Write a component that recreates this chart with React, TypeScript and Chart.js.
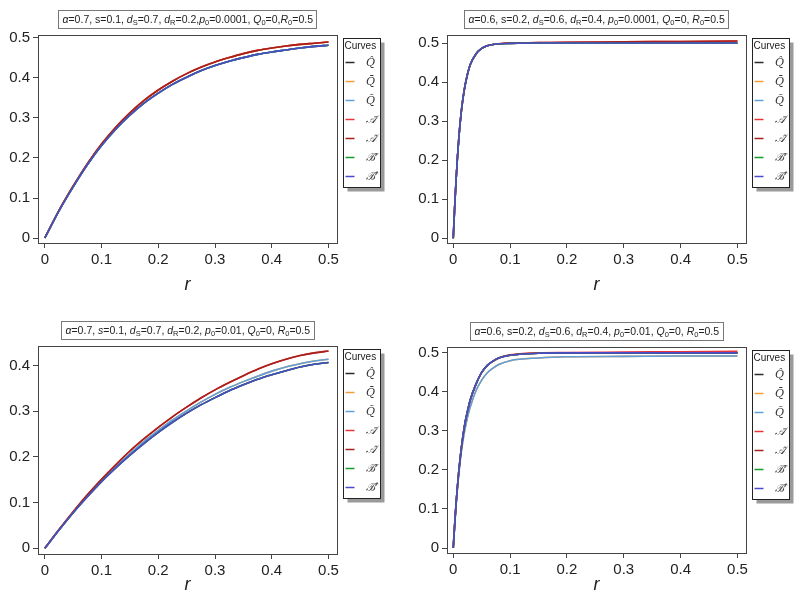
import React, { useEffect, useRef } from "react";
import { Chart, registerables } from "chart.js";
Chart.register(...registerables);

// ---------- data ----------
const R_LEFT = [0, 0.025, 0.05, 0.075, 0.1, 0.125, 0.15, 0.175, 0.2, 0.225, 0.25, 0.275, 0.3, 0.325, 0.35, 0.375, 0.4, 0.425, 0.45, 0.475, 0.5];
const R_RIGHT = [0, 0.0025, 0.005, 0.0075, 0.01, 0.015, 0.02, 0.025, 0.03, 0.04, 0.05, 0.06, 0.07, 0.08, 0.1, 0.15, 0.2, 0.3, 0.4, 0.5];

const CURVE_LABELS = ["Q̂", "Q̄", "Q̃", "𝒜̄", "𝒜̂", "ℬ̄", "ℬ̂"];
const CURVE_COLORS = ["#2a2a2a", "#f39c3c", "#5fa0dc", "#e8343a", "#a8201a", "#1a9a2a", "#4a4acb"];

// top-left panel (p0 = 0.0001, alpha = 0.7)
const TL_LOW = [0, 0.068, 0.128, 0.183, 0.231, 0.272, 0.307, 0.337, 0.362, 0.384, 0.402, 0.418, 0.431, 0.442, 0.451, 0.459, 0.465, 0.47, 0.475, 0.479, 0.482];
const TL_HIGH = [0, 0.069, 0.13, 0.186, 0.235, 0.277, 0.313, 0.344, 0.37, 0.392, 0.411, 0.427, 0.44, 0.451, 0.461, 0.469, 0.475, 0.48, 0.484, 0.487, 0.49];
// top-right panel (p0 = 0.0001, alpha = 0.6)
const TR_LOW = [0, 0.08, 0.15, 0.21, 0.26, 0.335, 0.385, 0.42, 0.445, 0.472, 0.486, 0.493, 0.496, 0.498, 0.499, 0.5, 0.5, 0.5, 0.5, 0.5];
const TR_HIGH = [0, 0.08, 0.15, 0.21, 0.26, 0.335, 0.385, 0.42, 0.445, 0.472, 0.486, 0.493, 0.496, 0.498, 0.5, 0.501, 0.502, 0.503, 0.504, 0.505];
// bottom-left panel (p0 = 0.01, alpha = 0.7)
const BL_LOW = [0, 0.04, 0.078, 0.113, 0.146, 0.176, 0.204, 0.23, 0.254, 0.276, 0.296, 0.314, 0.33, 0.345, 0.358, 0.37, 0.38, 0.389, 0.397, 0.403, 0.407];
const BL_MID = [0, 0.04, 0.079, 0.115, 0.148, 0.179, 0.207, 0.234, 0.258, 0.281, 0.301, 0.32, 0.337, 0.352, 0.365, 0.377, 0.388, 0.397, 0.404, 0.41, 0.414];
const BL_HIGH = [0, 0.041, 0.08, 0.117, 0.151, 0.183, 0.213, 0.24, 0.265, 0.288, 0.309, 0.329, 0.347, 0.363, 0.378, 0.392, 0.404, 0.414, 0.422, 0.428, 0.432];
// bottom-right panel (p0 = 0.01, alpha = 0.6)
const BR_FAST = [0, 0.06, 0.115, 0.16, 0.2, 0.265, 0.315, 0.35, 0.38, 0.42, 0.45, 0.468, 0.479, 0.487, 0.494, 0.499, 0.5, 0.5, 0.5, 0.5];
const BR_HIGH = [0, 0.06, 0.115, 0.16, 0.2, 0.265, 0.315, 0.35, 0.38, 0.42, 0.45, 0.468, 0.479, 0.487, 0.495, 0.5, 0.501, 0.502, 0.503, 0.504];
const BR_SLOW = [0, 0.058, 0.11, 0.155, 0.193, 0.255, 0.3, 0.335, 0.362, 0.403, 0.43, 0.449, 0.461, 0.47, 0.48, 0.487, 0.49, 0.491, 0.492, 0.492];

type Seg = [string, string];
const TITLE_TL: Seg[] = [["α", "i"], ["=0.7, s=0.1, ", ""], ["d", "i"], ["S", "s"], ["=0.7, ", ""], ["d", "i"], ["R", "s"], ["=0.2,", ""], ["p", "i"], ["0", "s"], ["=0.0001, ", ""], ["Q", "i"], ["0", "s"], ["=0,", ""], ["R", "i"], ["0", "s"], ["=0.5", ""]];
const TITLE_TR: Seg[] = [["α", "i"], ["=0.6, s=0.2, ", ""], ["d", "i"], ["S", "s"], ["=0.6, ", ""], ["d", "i"], ["R", "s"], ["=0.4, ", ""], ["p", "i"], ["0", "s"], ["=0.0001, ", ""], ["Q", "i"], ["0", "s"], ["=0, ", ""], ["R", "i"], ["0", "s"], ["=0.5", ""]];
const TITLE_BL: Seg[] = [["α", "i"], ["=0.7, ", ""], ["s", "i"], ["=0.1, ", ""], ["d", "i"], ["S", "s"], ["=0.7, ", ""], ["d", "i"], ["R", "s"], ["=0.2, ", ""], ["p", "i"], ["0", "s"], ["=0.01, ", ""], ["Q", "i"], ["0", "s"], ["=0, ", ""], ["R", "i"], ["0", "s"], ["=0.5", ""]];
const TITLE_BR: Seg[] = [["α", "i"], ["=0.6, s=0.2, ", ""], ["d", "i"], ["S", "s"], ["=0.6, ", ""], ["d", "i"], ["R", "s"], ["=0.4, ", ""], ["p", "i"], ["0", "s"], ["=0.01, ", ""], ["Q", "i"], ["0", "s"], ["=0, ", ""], ["R", "i"], ["0", "s"], ["=0.5", ""]];

const X_LABEL = "r";
const LEGEND_TITLE = "Curves";

const FONT = "'Liberation Sans', Arial, Helvetica, sans-serif";

// ---------- plugins ----------
const boxPlugin = {
  id: "rbox",
  afterDatasetsDraw(chart: any) {
    const { ctx, chartArea: a } = chart;
    ctx.save();
    ctx.strokeStyle = "#444";
    ctx.lineWidth = 1;
    ctx.strokeRect(Math.round(a.left) + 0.5, Math.round(a.top) + 0.5, Math.round(a.right - a.left), Math.round(a.bottom - a.top));
    ctx.restore();
  },
};

const titlePlugin = {
  id: "rtitle",
  afterDraw(chart: any, _args: any, opts: any) {
    const segs: Seg[] = opts.segs;
    if (!segs) return;
    const { ctx, chartArea: a } = chart;
    const fs = 10.5;
    const ss = 7.5;
    const fontFor = (st: string) => {
      const italic = st === "i" || st === "is";
      const size = st === "s" || st === "is" ? ss : fs;
      return `${italic ? "italic " : ""}${size}px ${FONT}`;
    };
    ctx.save();
    let w = 0;
    for (const [t, st] of segs) {
      ctx.font = fontFor(st);
      w += ctx.measureText(t).width;
    }
    const pad = 4;
    const h = 18;
    const cx = (a.left + a.right) / 2;
    const bx = Math.round(cx - w / 2 - pad) + 0.5;
    const by = Math.round(a.top - 7 - h) + 0.5;
    ctx.fillStyle = "#fff";
    ctx.fillRect(bx, by, w + pad * 2, h);
    ctx.strokeStyle = "#777";
    ctx.lineWidth = 1;
    ctx.strokeRect(bx, by, Math.round(w + pad * 2), h);
    let x = bx + pad;
    const ym = by + h / 2 + 0.5;
    ctx.fillStyle = "#222";
    ctx.textBaseline = "middle";
    ctx.textAlign = "left";
    for (const [t, st] of segs) {
      ctx.font = fontFor(st);
      const dy = st === "s" || st === "is" ? 2.5 : 0;
      ctx.fillText(t, x, ym + dy);
      x += ctx.measureText(t).width;
    }
    ctx.restore();
  },
};

const legendPlugin = {
  id: "rlegend",
  afterDraw(chart: any) {
    const { ctx, chartArea: a } = chart;
    const left = Math.round(a.right + 6) + 0.5;
    const top = Math.round(a.top + 3) + 0.5;
    const w = 37;
    const h = 149;
    ctx.save();
    ctx.fillStyle = "#9a9a9a";
    ctx.fillRect(left + 4, top + 4, w, h);
    ctx.fillStyle = "#fff";
    ctx.fillRect(left, top, w, h);
    ctx.strokeStyle = "#222";
    ctx.lineWidth = 1;
    ctx.strokeRect(left, top, w, h);
    ctx.fillStyle = "#222";
    ctx.font = `10px ${FONT}`;
    ctx.textBaseline = "middle";
    ctx.textAlign = "left";
    ctx.fillText(LEGEND_TITLE, left + 1, top + 8);
    chart.data.datasets.forEach((ds: any, i: number) => {
      const y = Math.round(top + 23.5 + i * 19) + 0.5;
      ctx.strokeStyle = ds.borderColor;
      ctx.lineWidth = 1.5;
      ctx.beginPath();
      ctx.moveTo(left + 2, y);
      ctx.lineTo(left + 11, y);
      ctx.stroke();
      ctx.fillStyle = "#333";
      ctx.font = `italic 11px 'DejaVu Serif', serif`;
      ctx.textAlign = "center";
      ctx.fillText(ds.label, left + 27, y + 1);
    });
    ctx.restore();
  },
};

// ---------- panels ----------
type Panel = {
  xs: number[];
  series: number[][];
  title: Seg[];
  yMin: number; yMax: number;
  xMin: number; xMax: number;
  left: number; top: number; w: number; h: number;
  areaLeft: number; areaRight: number; areaTop: number; areaBottom: number;
  titleBottomPad: number;
};

const PANELS: Panel[] = [
  {
    xs: R_LEFT, series: [TL_LOW, TL_HIGH, TL_LOW, TL_HIGH, TL_HIGH, TL_LOW, TL_LOW], title: TITLE_TL,
    yMin: -0.0125, yMax: 0.5075, xMin: -0.012, xMax: 0.515,
    left: 0, top: 0, w: 400, h: 300, areaLeft: 38, areaRight: 337, areaTop: 35, areaBottom: 243, titleBottomPad: 4,
  },
  {
    xs: R_RIGHT, series: [TR_LOW, TR_LOW, TR_LOW, TR_HIGH, TR_HIGH, TR_LOW, TR_LOW], title: TITLE_TR,
    yMin: -0.012, yMax: 0.5205, xMin: -0.011, xMax: 0.515,
    left: 400, top: 0, w: 400, h: 300, areaLeft: 47, areaRight: 346, areaTop: 35, areaBottom: 243, titleBottomPad: 4,
  },
  {
    xs: R_LEFT, series: [BL_LOW, BL_MID, BL_MID, BL_HIGH, BL_HIGH, BL_LOW, BL_LOW], title: TITLE_BL,
    yMin: -0.0125, yMax: 0.443, xMin: -0.012, xMax: 0.515,
    left: 0, top: 300, w: 400, h: 301, areaLeft: 38, areaRight: 337, areaTop: 46, areaBottom: 254, titleBottomPad: 5,
  },
  {
    xs: R_RIGHT, series: [BR_FAST, BR_SLOW, BR_SLOW, BR_HIGH, BR_FAST, BR_FAST, BR_FAST], title: TITLE_BR,
    yMin: -0.0128, yMax: 0.515, xMin: -0.011, xMax: 0.515,
    left: 400, top: 300, w: 400, h: 301, areaLeft: 47, areaRight: 346, areaTop: 47, areaBottom: 253, titleBottomPad: 5,
  },
];

function PanelChart({ p }: { p: Panel }) {
  const ref = useRef<HTMLCanvasElement | null>(null);
  useEffect(() => {
    if (!ref.current) return;
    const tickFont = { family: FONT, size: 15 };
    const chart = new Chart(ref.current, {
      type: "line",
      data: {
        datasets: p.series.map((ys, i) => ({
          label: CURVE_LABELS[i],
          data: p.xs.map((x, k) => ({ x, y: ys[k] })),
          borderColor: CURVE_COLORS[i],
          backgroundColor: CURVE_COLORS[i],
          borderWidth: 1.6,
          pointRadius: 0,
          cubicInterpolationMode: "monotone" as const,
          fill: false,
          order: 7 - i,
        })),
      },
      options: {
        animation: false,
        responsive: false,
        devicePixelRatio: 1,
        layout: { padding: { left: 0, top: p.areaTop, right: p.w - p.areaRight, bottom: 0 } },
        plugins: {
          legend: { display: false },
          tooltip: { enabled: false },
          rtitle: { segs: p.title },
        } as any,
        scales: {
          x: {
            type: "linear",
            min: p.xMin,
            max: p.xMax,
            border: { display: false },
            grid: { drawOnChartArea: false, drawTicks: true, tickLength: 5, tickColor: "#444", color: "#444" },
            ticks: { stepSize: 0.1, includeBounds: false, color: "#222", font: tickFont, padding: 3, maxRotation: 0, autoSkip: false },
            title: { display: true, text: X_LABEL, color: "#222", font: { family: FONT, size: 18, style: "italic" }, padding: { top: 0, bottom: p.titleBottomPad } },
            afterFit: (s: any) => { s.height = p.h - p.areaBottom; },
          },
          y: {
            type: "linear",
            min: p.yMin,
            max: p.yMax,
            border: { display: false },
            grid: { drawOnChartArea: false, drawTicks: true, tickLength: 5, tickColor: "#444", color: "#444" },
            ticks: { stepSize: 0.1, includeBounds: false, color: "#222", font: tickFont, padding: 3, autoSkip: false },
            afterFit: (s: any) => { s.width = p.areaLeft; },
          },
        },
      } as any,
      plugins: [boxPlugin, titlePlugin, legendPlugin],
    });
    return () => chart.destroy();
  }, [p]);
  return (
    <canvas
      ref={ref}
      width={p.w}
      height={p.h}
      style={{ position: "absolute", left: p.left, top: p.top, width: p.w, height: p.h }}
    />
  );
}

export default function App() {
  return (
    <div style={{ position: "fixed", left: 0, top: 0, width: 800, height: 601, background: "#fff", overflow: "hidden" }}>
      {PANELS.map((p, i) => (
        <PanelChart key={i} p={p} />
      ))}
    </div>
  );
}
